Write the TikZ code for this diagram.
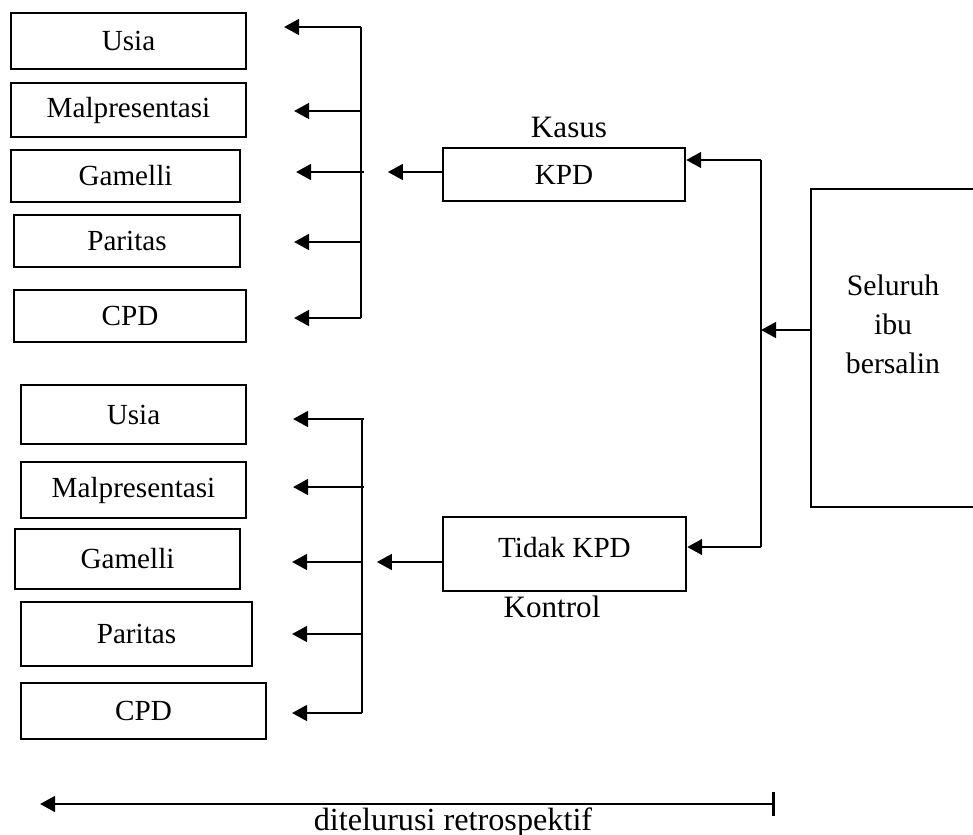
\documentclass[tikz,border=0pt]{standalone}
\usepackage{fontspec}
\setmainfont{Liberation Serif}
\usetikzlibrary{arrows.meta}
\tikzset{
 kotak/.style={draw,line width=0.85pt,inner sep=0pt,font=\fontsize{10.5}{13}\selectfont},
 ukuran/.style 2 args={minimum width=#1*0.36pt,minimum height=#2*0.36pt},
 panah/.style={-{Triangle[length=5.4pt,width=5.6pt]},line width=1pt},
 garis/.style={line width=0.8pt},
 judul/.style={font=\fontsize{11.2}{13}\selectfont},
}
\begin{document}
\begin{tikzpicture}[x=0.36pt,y=-0.36pt]
 \useasboundingbox (0,0) rectangle (973,834);
 % variabel kasus
 \node[kotak,ukuran={235}{56}](ka1) at (128.5,41) {Usia};
 \node[kotak,ukuran={235}{54}](ka2) at (128.5,110) {Malpresentasi};
 \node[kotak,ukuran={229}{52}](ka3) at (125.5,176) {Gamelli};
 \node[kotak,ukuran={226}{52}](ka4) at (127,241) {Paritas};
 \node[kotak,ukuran={232}{52}](ka5) at (130,316) {CPD};
 % variabel kontrol
 \node[kotak,ukuran={225}{59}](ko1) at (133.5,414.5) {Usia};
 \node[kotak,ukuran={225}{56}](ko2) at (133.5,490) {Malpresentasi};
 \node[kotak,ukuran={225}{60}](ko3) at (127.5,559) {Gamelli};
 \node[kotak,ukuran={231}{64}](ko4) at (136.5,634) {Paritas};
 \node[kotak,ukuran={245}{56}](ko5) at (143.5,711) {CPD};
 % kelompok
 \node[kotak,ukuran={242}{53}](kpd) at (564,174.5) {KPD};
 \node[kotak,ukuran={243}{74},text depth=5pt](tkpd) at (564.5,554) {Tidak KPD};
 \node[judul](kasus) at (569,127) {Kasus};
 \node[judul](kontrol) at (552,607) {Kontrol};
 \node[kotak,line width=0.6pt,ukuran={164}{318},
  label={[align=center,yshift=8.6pt,font=\fontsize{10.7}{14}\selectfont]center:Seluruh\\ibu\\bersalin}](ibu) at (893,348) {};
 % garis bagi kasus
 \coordinate (ta) at (361,27);
 \coordinate (tb) at (361,318);
 \draw[garis] (ta) -- (tb);
 \draw[panah] (ta) -- (284,27);
 \draw[panah] (361,111) -- (294,111);
 \draw[panah] (364,172) -- (296,172);
 \draw[panah] (361,242) -- (294,242);
 \draw[panah] (tb) -- (294,318);
 \draw[panah] (kpd.west) ++(0,-2.5) -- ++(-54,0);
 % garis bagi kontrol
 \coordinate (ba) at (362,419);
 \coordinate (bb) at (362,713);
 \draw[garis] (ba) -- (bb);
 \draw[panah] (364,419) -- (293,419);
 \draw[panah] (364,487) -- (293,487);
 \draw[panah] (362,562) -- (292,562);
 \draw[panah] (362,634) -- (292,634);
 \draw[panah] (bb) -- (292,713);
 \draw[panah] (tkpd.west) ++(0,8) -- ++(-65,0);
 % dari populasi
 \coordinate (ra) at (761,160);
 \coordinate (rb) at (761,547);
 \coordinate (rc) at (761,330);
 \draw[garis] (ra) -- (rb);
 \draw[panah] (ra) -- (kpd.east |- ra);
 \draw[panah] (rb) -- (tkpd.east |- rb);
 \draw[panah] (ibu.west |- rc) -- (rc);
 % arah penelusuran
 \coordinate (sa) at (775,804);
 \coordinate (sb) at (40,804);
 \draw[{Bar[width=8.6pt]}-{Triangle[length=5.4pt,width=5.6pt]},line width=1pt] (sa) -- (sb);
 \node[font=\fontsize{11.6}{13}\selectfont](retro) at (453,823) {ditelurusi retrospektif};
\end{tikzpicture}
\end{document}
